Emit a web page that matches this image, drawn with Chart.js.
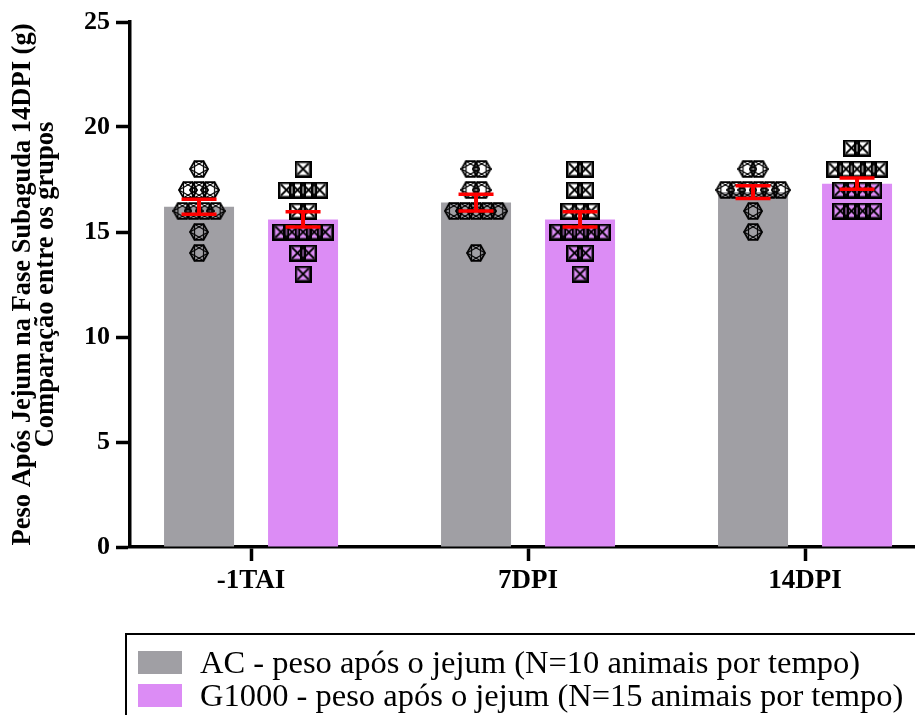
<!DOCTYPE html>
<html lang="pt">
<head>
<meta charset="utf-8">
<title>Peso após jejum - fase subaguda</title>
<script src="https://cdn.jsdelivr.net/npm/chart.js@4.4.1/dist/chart.umd.min.js"></script>
<style>
  body { margin: 0; background: #fff; }
  #wrap { position: relative; width: 915px; height: 715px; overflow: hidden; }
  #legenda {
    position: absolute; left: 125px; top: 633px; width: 830px; height: 120px;
    border: 2px solid #000; box-sizing: border-box; padding: 11px 0 0 11px;
    font-family: 'Liberation Serif', 'Times New Roman', serif; font-size: 32.5px; color: #000;
  }
  .item { display: flex; align-items: center; height: 33px; line-height: 33px; white-space: nowrap; }
  .caixa { width: 44px; height: 23px; margin-right: 18px; flex: none; }
</style>
</head>
<body>
<div id="wrap">
  <canvas id="grafico" width="915" height="715"></canvas>
  <div id="legenda"></div>
</div>
<script>
// dados
const categorias = ['-1TAI', '7DPI', '14DPI'];

// pontos individuais (g)
const acPontos = [
  [18, 17, 17, 17, 16, 16, 16, 16, 15, 14],
  [18, 18, 17, 17, 16, 16, 16, 16, 16, 14],
  [18, 18, 17, 17, 17, 17, 17, 17, 16, 15]
];
const g1000Pontos = [
  [18, 17, 17, 17, 17, 16, 16, 15, 15, 15, 15, 15, 14, 14, 13],
  [18, 18, 17, 17, 16, 16, 16, 15, 15, 15, 15, 15, 14, 14, 13],
  [19, 19, 18, 18, 18, 18, 18, 17, 17, 17, 17, 16, 16, 16, 16]
];

// médias e erro padrão (barras vermelhas)
const acMedia = [16.2, 16.4, 16.9];
const acEpm = [0.36, 0.40, 0.30];
const g1000Media = [15.6, 15.6, 17.3];
const g1000Epm = [0.36, 0.36, 0.27];

const yTicks = [0, 5, 10, 15, 20, 25];

const legendas = [
  'AC - peso após o jejum (N=10 animais por tempo)',
  'G1000 - peso após o jejum (N=15 animais por tempo)'
];

const corAC = '#A09FA4';
const corG1000 = '#DC8CF5';
const fonte = "'Liberation Serif', 'Times New Roman', serif";

const catPct = 0.751;
const barPct = 0.673;
const desloc = catPct / 4;   // centro de cada barra dentro do grupo
const passo = 0.04;          // espalhamento horizontal dos pontos repetidos

// marcadores
function marcadorHex() {
  const c = document.createElement('canvas');
  c.width = 20; c.height = 20;
  const g = c.getContext('2d');
  const r = 9, cx = 10, cy = 10;
  const v = [];
  for (let k = 0; k < 6; k++) {
    const a = Math.PI / 3 * k;
    v.push([cx + r * Math.cos(a), cy + r * Math.sin(a)]);
  }
  g.strokeStyle = '#000';
  g.lineWidth = 1.8;
  g.beginPath();
  v.forEach((p, k) => k ? g.lineTo(p[0], p[1]) : g.moveTo(p[0], p[1]));
  g.closePath();
  g.stroke();
  g.lineWidth = 1.2;
  [[0, 2, 4], [1, 3, 5]].forEach(t => {
    g.beginPath();
    t.forEach((k, j) => j ? g.lineTo(v[k][0], v[k][1]) : g.moveTo(v[k][0], v[k][1]));
    g.closePath();
    g.stroke();
  });
  return c;
}

function marcadorQuadrado() {
  const c = document.createElement('canvas');
  c.width = 17; c.height = 17;
  const g = c.getContext('2d');
  g.strokeStyle = '#000';
  g.lineWidth = 2.5;
  g.strokeRect(1.25, 1.25, 14.5, 14.5);
  g.lineWidth = 1.8;
  g.beginPath();
  g.moveTo(3, 3); g.lineTo(14, 14);
  g.moveTo(14, 3); g.lineTo(3, 14);
  g.stroke();
  return c;
}

// espalha pontos de mesmo valor lado a lado
function pontosEspalhados(listas, lado) {
  const out = [];
  listas.forEach((valores, i) => {
    const cont = {};
    valores.forEach(v => { cont[v] = (cont[v] || 0) + 1; });
    Object.keys(cont).forEach(k => {
      const n = cont[k];
      for (let j = 0; j < n; j++) {
        out.push({ x: i + lado * desloc + (j - (n - 1) / 2) * passo, y: Number(k) });
      }
    });
  });
  return out;
}

const barrasErro = {
  id: 'barrasErro',
  afterDatasetsDraw(chart) {
    const { ctx, scales: { y } } = chart;
    const grupos = [[acMedia, acEpm], [g1000Media, g1000Epm]];
    ctx.save();
    ctx.strokeStyle = '#FF0000';
    grupos.forEach(([medias, epm], d) => {
      chart.getDatasetMeta(d).data.forEach((barra, i) => {
        const yTop = y.getPixelForValue(medias[i] + epm[i]);
        const yBot = y.getPixelForValue(medias[i] - epm[i]);
        ctx.lineWidth = 4;
        ctx.beginPath();
        ctx.moveTo(barra.x, yTop);
        ctx.lineTo(barra.x, yBot);
        ctx.stroke();
        ctx.lineWidth = 3.5;
        ctx.beginPath();
        ctx.moveTo(barra.x - 17.5, yTop); ctx.lineTo(barra.x + 17.5, yTop);
        ctx.moveTo(barra.x - 17.5, yBot); ctx.lineTo(barra.x + 17.5, yBot);
        ctx.stroke();
      });
    });
    ctx.restore();
  }
};

const ctx = document.getElementById('grafico').getContext('2d');

new Chart(ctx, {
  type: 'bar',
  data: {
    datasets: [
      {
        label: legendas[0],
        data: acMedia.map((v, i) => ({ x: i, y: v })),
        backgroundColor: corAC,
        categoryPercentage: catPct,
        barPercentage: barPct,
        order: 2
      },
      {
        label: legendas[1],
        data: g1000Media.map((v, i) => ({ x: i, y: v })),
        backgroundColor: corG1000,
        categoryPercentage: catPct,
        barPercentage: barPct,
        order: 2
      },
      {
        type: 'scatter',
        data: pontosEspalhados(acPontos, -1),
        pointStyle: marcadorHex(),
        pointRadius: 8,
        order: 1
      },
      {
        type: 'scatter',
        data: pontosEspalhados(g1000Pontos, 1),
        pointStyle: marcadorQuadrado(),
        pointRadius: 8,
        order: 1
      }
    ]
  },
  options: {
    responsive: false,
    animation: false,
    events: [],
    layout: { autoPadding: false, padding: { left: 0, right: 0, top: 22, bottom: 108 } },
    plugins: {
      legend: { display: false },
      tooltip: { enabled: false }
    },
    scales: {
      x: {
        type: 'linear',
        offset: false,
        bounds: 'data',
        min: -0.437,
        max: 2.397,
        afterBuildTicks: s => { s.ticks = categorias.map((_, i) => ({ value: i })); },
        afterFit: s => { s.height = 60; },
        ticks: {
          callback: v => categorias[v],
          color: '#000',
          padding: 4,
          maxRotation: 0,
          font: { family: fonte, size: 27, weight: 'bold' }
        },
        grid: { offset: false, drawOnChartArea: false, tickLength: 14, tickColor: '#000', tickWidth: 3.5 },
        border: { color: '#000', width: 3.5 }
      },
      y: {
        min: yTicks[0],
        max: yTicks[yTicks.length - 1],
        afterFit: s => { s.width = 130; },
        ticks: {
          stepSize: yTicks[1] - yTicks[0],
          color: '#000',
          padding: 6,
          font: { family: fonte, size: 26, weight: 'bold' }
        },
        grid: { drawOnChartArea: false, tickLength: 14, tickColor: '#000', tickWidth: 3.5 },
        border: { color: '#000', width: 3.5 },
        title: {
          display: true,
          text: ['Peso Após Jejum na Fase Subaguda 14DPI (g)', 'Comparação entre os grupos'],
          color: '#000',
          padding: { top: 11.5, bottom: 0 },
          font: { family: fonte, size: 26.5, weight: 'bold', lineHeight: 0.87 }
        }
      }
    }
  },
  plugins: [barrasErro]
});

// legenda em HTML
const legenda = document.getElementById('legenda');
[corAC, corG1000].forEach((cor, i) => {
  const item = document.createElement('div');
  item.className = 'item';
  const caixa = document.createElement('span');
  caixa.className = 'caixa';
  caixa.style.background = cor;
  const texto = document.createElement('span');
  texto.textContent = legendas[i];
  item.appendChild(caixa);
  item.appendChild(texto);
  legenda.appendChild(item);
});
</script>
</body>
</html>
